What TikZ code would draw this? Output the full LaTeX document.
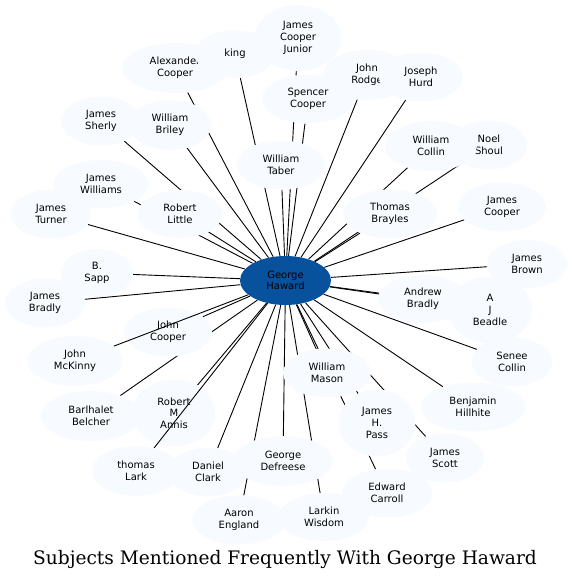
\documentclass[tikz,border=0pt]{standalone}
\usepackage{fontspec}
\setmainfont{DejaVu Sans}
\newfontfamily\titlefont{DejaVu Serif}
\usetikzlibrary{shapes.geometric}
\definecolor{leafblue}{HTML}{F7FBFF}
\definecolor{hubblue}{HTML}{08519C}
\pgfdeclarelayer{edges}
\pgfdeclarelayer{low}
\pgfdeclarelayer{over}
\pgfsetlayers{edges,low,over,main}
\tikzset{
  leaf/.style 2 args={ellipse, fill=leafblue, inner sep=0pt, minimum width=#1,
    minimum height=#2, align=center, font=\fontsize{10}{11.7}\selectfont},
  hub/.style={ellipse, fill=hubblue, inner sep=0pt, minimum width=91,
    minimum height=49, align=center, font=\fontsize{10}{11.7}\selectfont},
  link/.style={line width=0.9pt}
}
\begin{document}
\begin{tikzpicture}[x=1pt, y=-1pt]
        \useasboundingbox (0,0) rectangle (571,581);

        % nodes under the crossing links
        \begin{pgfonlayer}{low}
            \node[leaf={88}{49}] (jc) at (168,332) {John\\Cooper};
            \node[leaf={83}{67}] (rma) at (174,413) {Robert\\M\\Annis};
        \end{pgfonlayer}

        % upper ring
        \node[leaf={106}{50}] (ac) at (175,68) {Alexander\\Cooper};
        \node[leaf={80}{48}] (king) at (235,54) {king};
        \node[leaf={87}{66}] (jcj) at (298,38) {James\\Cooper\\Junior};
        \node[leaf={88}{50}] (jr) at (367,75) {John\\Rodge};
        \node[leaf={84}{49}] (jh) at (421,77) {Joseph\\Hurd};
        \node[leaf={92}{49}] (sc) at (308,99) {Spencer\\Cooper};
        \node[leaf={80}{49}] (js) at (101,121) {James\\Sherly};
        \node[leaf={82}{50}] (wb) at (170,125) {William\\Briley};
        \node[leaf={88}{49}] (wt) at (281,165) {William\\Taber};
        \node[leaf={76}{49}] (ns) at (489,145) {Noel\\Shoul};
        \node[leaf={92}{50}] (wc) at (431,146) {William\\Collin};

        % left side
        \node[leaf={95}{48}] (jw) at (101,184) {James\\Williams};
        \node[leaf={81}{49}] (jt) at (51,214) {James\\Turner};
        \node[leaf={85}{48}] (rl) at (180,214) {Robert\\Little};
        \node[leaf={72}{48}] (bs) at (97,273) {B.\\Sapp};
        \node[leaf={80}{49}] (jbr) at (45,303) {James\\Bradly};
        \node[leaf={95}{50}] (jm) at (75,361) {John\\McKinny};
        \node[leaf={100}{50}] (bb) at (91,416) {Barlhalet\\Belcher};

        % right side
        \node[leaf={94}{49}] (tb) at (390,214) {Thomas\\Brayles};
        \node[leaf={88}{49}] (jco) at (502,207) {James\\Cooper};
        \node[leaf={80}{48}] (jb) at (527,264) {James\\Brown};
        \node[leaf={90}{48}] (ab) at (423,299) {Andrew\\Bradly};
        \node[leaf={84}{67}] (ajb) at (490,310) {A\\J\\Beadle};
        \node[leaf={81}{49}] (sco) at (512,362) {Senee\\Collin};
        \node[leaf={105}{49}] (bh) at (473,407) {Benjamin\\Hillhite};

        % lower ring
        \node[leaf={88}{49}] (wm) at (327,373) {William\\Mason};
        \node[leaf={77}{67}] (jhp) at (377,423) {James\\H.\\Pass};
        \node[leaf={78}{49}] (jsc) at (445,458) {James\\Scott};
        \node[leaf={88}{50}] (tl) at (136,471) {thomas\\Lark};
        \node[leaf={78}{49}] (dc) at (208,472) {Daniel\\Clark};
        \node[leaf={100}{50}] (gd) at (283,461) {George\\Defreese};
        \node[leaf={90}{49}] (ec) at (387,493) {Edward\\Carroll};
        \node[leaf={94}{49}] (ae) at (239,520) {Aaron\\England};
        \node[leaf={90}{48}] (lw) at (324,517) {Larkin\\Wisdom};

        % hub
        \node[hub] (gh) at (285.5,280.5) {George\\Haward};

        % links
        \begin{pgfonlayer}{edges}
            \foreach \n in {jcj,king,ac,jr,jh,sc,js,wb,wt,wc,ns,jw,rl,jt,tb,jco,jb,bs,jbr,ab,ajb,jc,wm,sco,rma,bb,jhp,bh,jsc,dc,gd,ec,ae,lw}
                \draw[link] (gh) -- (\n);
        \end{pgfonlayer}
        \begin{pgfonlayer}{over}
            \foreach \n in {jm,tl}
                \draw[link] (gh) -- (\n);
        \end{pgfonlayer}

        \node[font=\titlefont\fontsize{18.6}{22}\selectfont] (title) at (285,559) {Subjects Mentioned Frequently With George Haward};
    \end{tikzpicture}
\end{document}
